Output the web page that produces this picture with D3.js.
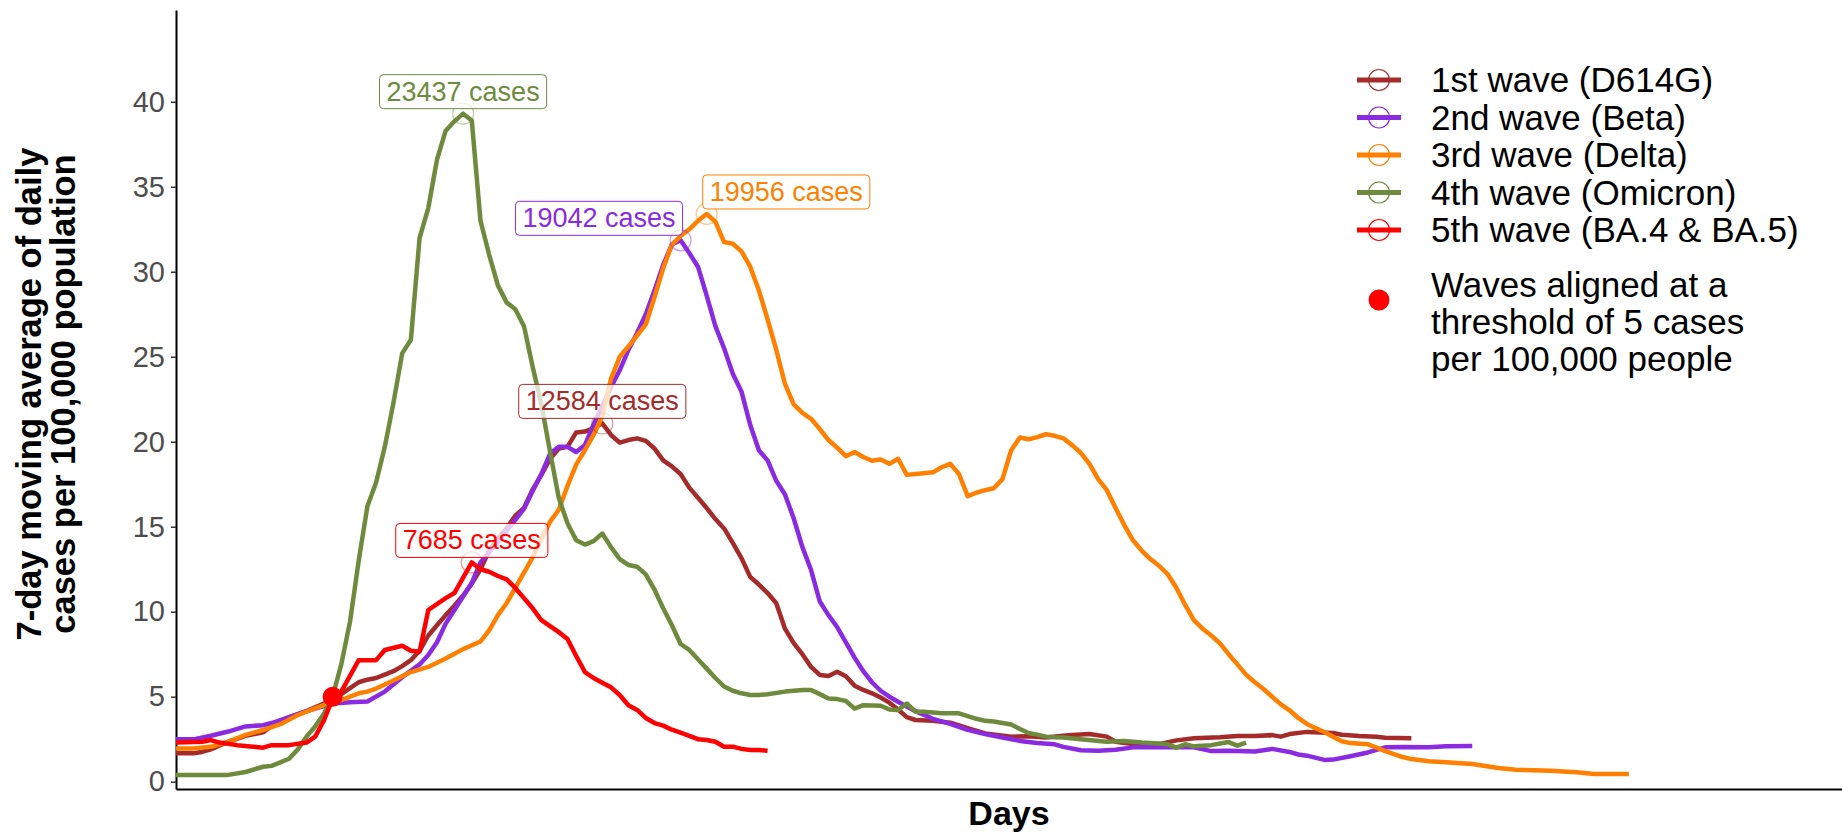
<!DOCTYPE html>
<html>
<head>
<meta charset="utf-8">
<script src="https://cdn.jsdelivr.net/npm/d3@7"></script>
<style>
  body { margin: 0; background: #fff; }
  svg  { display: block; font-family: "Liberation Sans", Arial, sans-serif; }
</style>
</head>
<body>
<script>
// [day relative to threshold crossing, 7-day avg cases per 100k]
const wave1 = [[-18,1.67],[-16,1.67],[-15,1.75],[-14,1.9],[-12,2.35],[-10,2.7],[-8,2.9],[-7,3.28],[-5,3.78],[-3,4.15],[-1,4.6],[0,4.8],[1,5.15],[2,5.5],[3,5.85],[4,6.0],[5,6.1],[6,6.3],[7,6.5],[8,6.8],[9,7.15],[10,7.7],[11,8.6],[12,9.2],[13,9.8],[14,10.35],[15,10.95],[16,11.65],[17,12.5],[18,13.6],[19,14.3],[20,14.9],[21,15.65],[22,16.1],[23,17.2],[24,18.05],[25,19.0],[26,19.6],[27,19.7],[28,20.55],[29,20.6],[30,20.8],[31,21.08],[32,20.4],[33,19.95],[34,20.1],[35,20.2],[36,20.05],[37,19.6],[38,18.9],[39,18.55],[40,18.1],[41,17.3],[42,16.7],[43,16.1],[44,15.45],[45,14.9],[46,14.05],[47,13.15],[48,12.05],[49,11.6],[50,11.1],[51,10.5],[52,9.0],[53,8.15],[54,7.5],[55,6.75],[56,6.28],[57,6.22],[58,6.47],[59,6.2],[60,5.65],[61,5.4],[62,5.2],[63,4.95],[64,4.65],[65,4.25],[66,3.8],[67,3.63],[69,3.58],[71,3.47],[73,3.15],[75,2.84],[78,2.65],[80,2.67],[82,2.6],[84,2.7],[85,2.75],[87,2.8],[89,2.65],[90,2.35],[92,2.22],[95,2.2],[97,2.43],[99,2.55],[102,2.61],[104,2.69],[106,2.69],[108,2.74],[109,2.65],[110,2.8],[112,2.93],[115,2.86],[116,2.76],[118,2.69],[120,2.65],[121,2.58],[124,2.55]];

const wave2 = [[-18,2.49],[-16,2.49],[-14,2.7],[-12,2.95],[-10,3.25],[-8,3.32],[-7,3.45],[-5,3.8],[-3,4.15],[-1,4.45],[0,4.6],[2,4.68],[4,4.72],[6,5.3],[8,6.15],[10,6.9],[11,7.45],[12,8.2],[13,9.3],[14,10.1],[15,10.9],[16,11.7],[17,12.9],[18,13.5],[19,14.1],[20,14.75],[21,15.4],[22,16.05],[23,17.1],[24,18.1],[25,19.3],[26,19.7],[27,19.7],[28,19.4],[29,19.8],[30,21.0],[31,22.1],[32,23.2],[33,24.2],[34,25.4],[35,26.4],[36,27.5],[37,28.9],[38,30.4],[39,31.6],[40,31.85],[41,31.1],[42,30.3],[43,28.6],[44,26.8],[45,25.5],[46,24.0],[47,22.95],[48,21.0],[49,19.5],[50,18.9],[51,17.7],[52,16.9],[53,15.5],[54,13.8],[55,12.45],[56,10.6],[57,9.8],[58,9.1],[59,8.2],[60,7.3],[61,6.5],[62,5.85],[63,5.35],[64,5.0],[65,4.7],[67,4.15],[69,3.7],[71,3.4],[73,3.05],[75,2.8],[77,2.6],[79,2.4],[81,2.27],[83,2.2],[84,2.05],[86,1.85],[88,1.82],[90,1.88],[92,2.02],[99,2.02],[101,1.8],[103,1.82],[106,1.78],[108,1.93],[110,1.75],[111,1.6],[112,1.53],[114,1.28],[115,1.3],[117,1.5],[119,1.72],[121,2.02],[123,2.04],[126,2.02],[128,2.08],[131,2.1]];

const wave3 = [[-18,1.96],[-16,1.96],[-14,2.05],[-12,2.35],[-10,2.75],[-8,3.04],[-6,3.38],[-4,3.92],[-3,4.12],[-1,4.5],[0,4.7],[1,4.8],[2,5.0],[3,5.2],[4,5.3],[5,5.48],[7,5.95],[9,6.45],[11,6.75],[13,7.25],[15,7.8],[17,8.25],[18,8.9],[19,9.8],[20,10.5],[21,11.4],[22,12.3],[23,13.2],[24,14.3],[25,15.3],[26,16.0],[27,17.4],[28,18.65],[29,19.5],[30,20.4],[31,21.5],[32,23.7],[33,25.0],[34,25.6],[35,26.25],[36,26.9],[37,28.5],[38,30.2],[39,31.6],[40,32.1],[41,32.5],[42,33.0],[43,33.4],[44,32.95],[45,31.75],[46,31.65],[47,31.2],[48,30.3],[49,28.9],[50,27.2],[51,25.4],[52,23.4],[53,22.2],[54,21.7],[55,21.35],[56,20.75],[57,20.1],[58,19.65],[59,19.15],[60,19.4],[61,19.1],[62,18.88],[63,18.95],[64,18.7],[65,19.0],[66,18.05],[67,18.1],[68,18.15],[69,18.2],[70,18.5],[71,18.7],[72,18.1],[73,16.8],[74,17.0],[75,17.15],[76,17.26],[77,17.8],[78,19.5],[79,20.25],[80,20.15],[81,20.27],[82,20.44],[83,20.35],[84,20.2],[85,19.8],[86,19.35],[87,18.7],[88,17.8],[89,17.15],[90,16.1],[91,15.1],[92,14.2],[93,13.6],[94,13.1],[95,12.7],[96,12.2],[97,11.4],[98,10.4],[99,9.5],[100,9.0],[101,8.6],[102,8.14],[103,7.5],[104,6.9],[105,6.3],[106,5.85],[107,5.45],[108,5.0],[109,4.55],[110,4.2],[111,3.75],[112,3.4],[113,3.15],[114,2.92],[115,2.65],[116,2.38],[117,2.27],[119,2.2],[120,2.0],[121,1.8],[123,1.45],[124,1.33],[126,1.2],[128,1.14],[131,1.04],[134,0.8],[136,0.7],[140,0.65],[143,0.55],[145,0.45],[149,0.45]];

const wave4 = [[-18,0.4],[-12,0.4],[-10,0.57],[-8,0.88],[-7,0.93],[-5,1.35],[-4,1.9],[-3,2.65],[-2,3.25],[-1,4.0],[0,5.0],[1,6.9],[2,9.4],[3,13.0],[4,16.2],[5,17.6],[6,19.7],[7,22.3],[8,25.2],[9,26.0],[10,32.0],[11,33.75],[12,36.6],[13,38.3],[14,38.85],[15,39.3],[16,38.9],[17,33.0],[18,31.0],[19,29.2],[20,28.2],[21,27.8],[22,26.8],[23,24.4],[24,22.2],[25,19.4],[26,16.7],[27,15.2],[28,14.2],[29,13.95],[30,14.15],[31,14.6],[32,13.8],[33,13.1],[34,12.75],[35,12.65],[36,12.2],[37,11.3],[38,10.2],[39,9.2],[40,8.1],[41,7.75],[42,7.2],[43,6.65],[44,6.1],[45,5.6],[46,5.35],[47,5.2],[48,5.1],[49,5.1],[50,5.15],[52,5.3],[54,5.39],[55,5.39],[56,5.15],[57,4.9],[58,4.86],[59,4.75],[60,4.3],[61,4.5],[63,4.47],[64,4.25],[65,4.22],[66,4.6],[67,4.12],[68,4.12],[70,4.03],[72,4.02],[74,3.7],[75,3.58],[76,3.54],[78,3.36],[79,3.1],[80,2.86],[81,2.77],[82,2.65],[83,2.61],[84,2.6],[86,2.5],[89,2.35],[91,2.4],[93,2.3],[95,2.24],[96,2.2],[97,2.0],[98,2.2],[99,2.08],[101,2.15],[103,2.33],[104,2.12],[105,2.3]];

const wave5 = [[-18,2.3],[-15,2.35],[-14,2.45],[-13,2.3],[-11,2.15],[-8,2.0],[-7,2.15],[-5,2.15],[-3,2.3],[-2,2.65],[-1,3.6],[0,4.9],[1,5.3],[3,7.15],[5,7.15],[6,7.75],[8,8.0],[9,7.7],[10,7.65],[11,10.1],[13,10.8],[14,11.1],[16,12.9],[17,12.5],[18,12.35],[19,12.1],[20,11.9],[21,11.4],[22,10.8],[23,10.2],[24,9.5],[25,9.15],[26,8.8],[27,8.4],[28,7.4],[29,6.45],[30,6.1],[31,5.82],[32,5.55],[33,5.1],[34,4.5],[35,4.22],[36,3.75],[37,3.45],[38,3.3],[39,3.06],[40,2.88],[41,2.7],[42,2.5],[43,2.45],[44,2.35],[45,2.06],[46,2.06],[47,1.93],[48,1.86],[49,1.86],[50,1.82]];

const waveNames  = ['1st wave (D614G)', '2nd wave (Beta)', '3rd wave (Delta)', '4th wave (Omicron)', '5th wave (BA.4 & BA.5)'];
const waveColors = ['#a52a2a', '#8a2be2', '#ff7f00', '#6e8b3d', '#ff0000'];
const peakCases  = [12584, 19042, 19956, 23437, 7685];
const yTicks     = [0, 5, 10, 15, 20, 25, 30, 35, 40];
const threshold  = 5;
const dotLegend  = ['Waves aligned at a', 'threshold of 5 cases', 'per 100,000 people'];

const waves = [wave1, wave2, wave3, wave4, wave5];

const width  = 1842;
const height = 832;

const svg = d3.select('body').append('svg')
  .attr('width', width)
  .attr('height', height);

const x = d3.scaleLinear().domain([-18, 173.5]).range([176, 1842]);
const y = d3.scaleLinear().domain([-0.43, 45.4]).range([789, 10]);

// axes
const yAxis = svg.append('g')
  .attr('transform', 'translate(176,0)')
  .call(d3.axisLeft(y).tickValues(yTicks).tickSize(5).tickPadding(6).tickSizeOuter(0));
yAxis.select('.domain').attr('stroke', '#000').attr('stroke-width', 2);
yAxis.selectAll('.tick line').attr('stroke', '#333').attr('stroke-width', 1.5);
yAxis.selectAll('.tick text')
  .attr('fill', '#4d4d4d')
  .style('font-size', '29px')
  .style('font-family', '"Liberation Sans", Arial, sans-serif');

const xAxis = svg.append('g')
  .attr('transform', 'translate(0,789)')
  .call(d3.axisBottom(x).tickValues([]).tickSizeOuter(0));
xAxis.select('.domain').attr('stroke', '#000').attr('stroke-width', 2);

svg.append('text')
  .attr('x', (176 + 1842) / 2)
  .attr('y', 825)
  .attr('text-anchor', 'middle')
  .style('font-size', '34px')
  .style('font-weight', 'bold')
  .text('Days');

const yTitle = ['7-day moving average of daily', 'cases per 100,000 population'];
yTitle.forEach((t, i) => {
  svg.append('text')
    .attr('transform', 'translate(' + (41 + i * 34) + ',394) rotate(-90)')
    .attr('text-anchor', 'middle')
    .style('font-size', '34.5px')
    .style('font-weight', 'bold')
    .text(t);
});

// lines
const line = d3.line().x(d => x(d[0])).y(d => y(d[1]));

waves.forEach((w, i) => {
  svg.append('path')
    .datum(w)
    .attr('d', line)
    .attr('fill', 'none')
    .attr('stroke', waveColors[i])
    .attr('stroke-width', 4.5)
    .attr('stroke-linejoin', 'round');
});

// peak markers + labels
const anchors = [0.5, 1, 0, 0.5, 0.5];
const shiftX  = [0, 2, -4, 0, 0];

waves.forEach((w, i) => {
  const peak = w.reduce((a, b) => (b[1] > a[1] ? b : a));
  const px = x(peak[0]);
  const py = y(peak[1]);

  svg.append('circle')
    .attr('cx', px).attr('cy', py).attr('r', 10.5)
    .attr('fill', 'none')
    .attr('stroke', waveColors[i])
    .attr('stroke-opacity', 0.45)
    .attr('stroke-width', 1.2);

  const g = svg.append('g');
  const rect = g.append('rect');
  const txt = g.append('text')
    .attr('fill', waveColors[i])
    .style('font-size', '27px')
    .text(peakCases[i] + ' cases');

  const bb = txt.node().getBBox();
  const padX = 7, padY = 2;
  const bw = bb.width + 2 * padX;
  const bh = bb.height + 2 * padY;
  const bx = px - bw * anchors[i] + shiftX[i];
  const by = py - 5 - bh;

  rect.attr('x', bx).attr('y', by)
    .attr('width', bw).attr('height', bh)
    .attr('rx', 4)
    .attr('fill', '#fff').attr('fill-opacity', 0.75)
    .attr('stroke', waveColors[i]).attr('stroke-width', 1);
  txt.attr('x', bx + padX - bb.x)
    .attr('y', by + padY - bb.y);
});

// threshold dot
svg.append('circle')
  .attr('cx', x(0)).attr('cy', y(threshold)).attr('r', 10)
  .attr('fill', '#ff0000');

// legend
const legend = svg.append('g').attr('transform', 'translate(1379,80)');
waveNames.forEach((name, i) => {
  const row = legend.append('g').attr('transform', 'translate(0,' + i * 37.5 + ')');
  row.append('line')
    .attr('x1', -22).attr('x2', 22)
    .attr('stroke', waveColors[i]).attr('stroke-width', 5);
  row.append('circle')
    .attr('r', 10.5).attr('fill', 'none')
    .attr('stroke', waveColors[i]).attr('stroke-width', 1.2);
  row.append('text')
    .attr('x', 52).attr('dy', '0.35em')
    .style('font-size', '35px')
    .text(name);
});

legend.append('circle')
  .attr('cy', 220).attr('r', 10.5)
  .attr('fill', '#ff0000');
dotLegend.forEach((t, i) => {
  legend.append('text')
    .attr('x', 52).attr('y', 205 + i * 37)
    .attr('dy', '0.35em')
    .style('font-size', '35px')
    .text(t);
});
</script>
</body>
</html>
